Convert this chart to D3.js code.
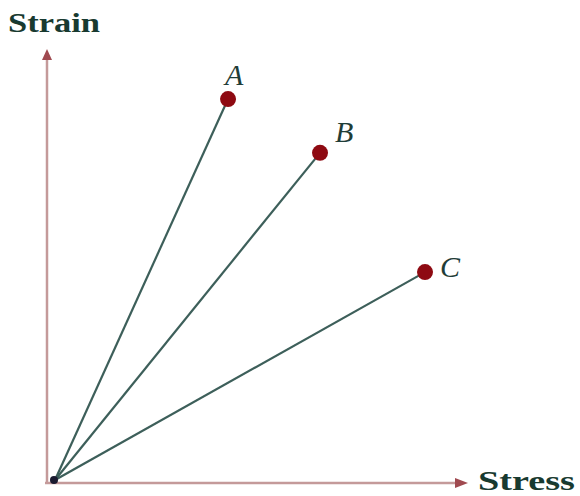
<!DOCTYPE html>
<html><head><meta charset="utf-8">
<script src="https://cdn.jsdelivr.net/npm/d3@7"></script>
<style>body{margin:0;background:#fff}svg{display:block}</style>
</head><body>
<svg id="c" width="580" height="496"></svg>
<script>
const labels = ["A", "B", "C"];
const stress = [4.12, 6.31, 8.81];
const strain = [9.07, 7.79, 4.95];
const axisTitles = ["Stress", "Strain"];

const svg = d3.select("#c");
const x = d3.scaleLinear().domain([0, 10]).range([55, 475]);
const y = d3.scaleLinear().domain([0, 10]).range([480, 60]);

// label placement relative to each point (layout only)
const labelDx = {A: -3, B: 15, C: 15};
const labelDy = {A: -14, B: -11, C: 5};

const axisColor = "#c49a9a";
svg.append("line").attr("x1", 47).attr("y1", 484).attr("x2", 47).attr("y2", 56)
  .attr("stroke", axisColor).attr("stroke-width", 2.5);
svg.append("line").attr("x1", 45).attr("y1", 483).attr("x2", 462).attr("y2", 483)
  .attr("stroke", axisColor).attr("stroke-width", 2.5);
svg.append("path").attr("d", "M42,60 L47,49 L52,60 Z").attr("fill", "#a04a50");
svg.append("path").attr("d", "M455,478 L468,483 L455,488 Z").attr("fill", "#a04a50");

const pts = labels.map((l, i) => ({l, sx: stress[i], sy: strain[i]}));
svg.selectAll("line.ray").data(pts).join("line").attr("class", "ray")
  .attr("x1", x(0)).attr("y1", y(0))
  .attr("x2", d => x(d.sx)).attr("y2", d => y(d.sy))
  .attr("stroke", "#3d5f5a").attr("stroke-width", 2.2);

svg.append("circle").attr("cx", 54).attr("cy", 480).attr("r", 4).attr("fill", "#1a1a30");

svg.selectAll("circle.pt").data(pts).join("circle").attr("class", "pt")
  .attr("cx", d => x(d.sx)).attr("cy", d => y(d.sy)).attr("r", 8)
  .attr("fill", "#8e0a12");

svg.selectAll("text.lab").data(pts).join("text").attr("class", "lab")
  .attr("x", d => x(d.sx) + labelDx[d.l]).attr("y", d => y(d.sy) + labelDy[d.l])
  .attr("font-family", "Liberation Serif").attr("font-style", "italic")
  .attr("font-size", 30).attr("fill", "#1f3d38").text(d => d.l);

svg.append("text").attr("x", 8).attr("y", 32).text(axisTitles[1])
  .attr("font-family", "Liberation Serif").attr("font-weight", "bold")
  .attr("font-size", 27).attr("fill", "#183a30")
  .attr("textLength", 92).attr("lengthAdjust", "spacingAndGlyphs");
svg.append("text").attr("x", 478).attr("y", 490).text(axisTitles[0])
  .attr("font-family", "Liberation Serif").attr("font-weight", "bold")
  .attr("font-size", 27).attr("fill", "#183a30")
  .attr("textLength", 97).attr("lengthAdjust", "spacingAndGlyphs");
</script>
</body></html>
